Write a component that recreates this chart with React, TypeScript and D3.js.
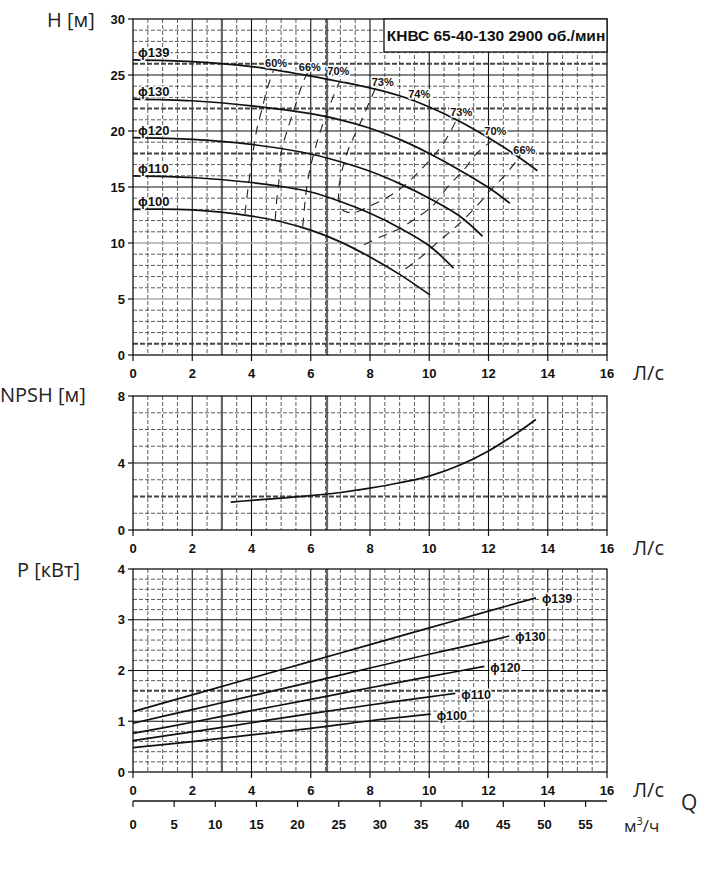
import React from "react";
import * as d3 from "d3";

// ---------- data ----------
const qTicks = [0, 2, 4, 6, 8, 10, 12, 14, 16];
const m3hTicks = [0, 5, 10, 15, 20, 25, 30, 35, 40, 45, 50, 55];
const headTicks = [0, 5, 10, 15, 20, 25, 30];
const npshTicks = [0, 4, 8];
const powerTicks = [0, 1, 2, 3, 4];

const diameters = ["ϕ139", "ϕ130", "ϕ120", "ϕ110", "ϕ100"];

// head curves H(Q)
const h139Q = [0, 2, 4, 6, 7, 8, 9, 10, 11, 12, 13, 13.65];
const h139H = [26.35, 26.2, 25.75, 24.9, 24.4, 23.85, 23.15, 22.15, 20.9, 19.4, 17.7, 16.45];
const h130Q = [0, 2, 4, 6, 7, 8, 9, 10, 11, 12, 12.72];
const h130H = [22.85, 22.7, 22.25, 21.55, 21.0, 20.25, 19.25, 18.0, 16.55, 14.95, 13.55];
const h120Q = [0, 2, 4, 6, 7, 8, 9, 10, 11, 11.8];
const h120H = [19.4, 19.25, 18.8, 17.95, 17.25, 16.4, 15.3, 14.0, 12.45, 10.6];
const h110Q = [0, 2, 4, 5, 6, 7, 8, 9, 10, 10.82];
const h110H = [16.0, 15.85, 15.4, 15.05, 14.55, 13.7, 12.65, 11.35, 9.75, 7.75];
const h100Q = [0, 2, 4, 5, 6, 7, 8, 9, 10.03];
const h100H = [13.0, 12.95, 12.4, 11.9, 11.15, 10.1, 8.75, 7.2, 5.35];

// iso-efficiency curves (Q, H)
const eff60Q = [3.78, 3.85, 3.95, 4.06, 4.2, 4.35, 4.52, 4.74];
const eff60H = [12.6, 14.2, 16.2, 18.3, 20.4, 21.9, 23.7, 25.4];
const eff66aQ = [4.8, 4.85, 4.94, 5.02, 5.25, 5.47, 5.73, 5.89];
const eff66aH = [12.05, 13.8, 15.9, 18.3, 20.4, 22.2, 24.3, 25.2];
const eff70aQ = [5.73, 5.8, 5.92, 6.2, 6.54, 6.97];
const eff70aH = [11.45, 13.5, 15.9, 18.9, 21.6, 24.4];
const eff73Q = [8.18, 7.67, 7.22, 6.98, 6.94, 7.05, 7.4, 8.0, 8.9, 9.7, 10.48, 10.9];
const eff73H = [23.8, 20.7, 18.0, 15.5, 14.1, 13.0, 12.7, 13.3, 14.6, 16.5, 18.9, 20.9];
const eff70bQ = [7.8, 8.4, 9.0, 9.6, 10.15, 10.65, 11.16, 11.6, 12.1];
const eff70bH = [9.85, 10.6, 11.3, 12.3, 13.4, 15.1, 16.5, 18.0, 19.1];
const eff66bQ = [9.2, 9.75, 10.3, 10.75, 11.2, 11.67, 12.1, 12.57, 12.96, 13.13];
const eff66bH = [7.7, 8.8, 10.1, 11.1, 12.2, 13.5, 14.8, 16.1, 17.4, 18.1];

const effLabels = ["60%", "66%", "70%", "73%", "74%", "73%", "70%", "66%"];
const effLabelQ = [4.83, 5.97, 6.93, 8.43, 9.66, 11.08, 12.23, 13.21];
const effLabelH = [26.1, 25.67, 25.36, 24.33, 23.26, 21.65, 19.96, 18.3];

// NPSH
const npshQ = [3.3, 4, 5, 6, 7, 8, 9, 10, 11, 12, 12.85, 13.6];
const npshV = [1.66, 1.77, 1.9, 2.05, 2.24, 2.5, 2.82, 3.22, 3.85, 4.72, 5.66, 6.6];

// power P(Q)
const p139Q = [0, 2, 4, 6, 8, 10, 12, 13.6];
const p139P = [1.19, 1.52, 1.85, 2.18, 2.51, 2.84, 3.17, 3.43];
const p130Q = [0, 2, 4, 6, 8, 10, 12, 12.7];
const p130P = [0.96, 1.23, 1.5, 1.77, 2.05, 2.32, 2.58, 2.68];
const p120Q = [0, 2, 4, 6, 8, 10, 11.86];
const p120P = [0.76, 0.98, 1.21, 1.43, 1.66, 1.88, 2.08];
const p110Q = [0, 2, 4, 6, 8, 10, 10.88];
const p110P = [0.62, 0.79, 0.97, 1.15, 1.32, 1.48, 1.55];
const p100Q = [0, 2, 4, 6, 8, 10.05];
const p100P = [0.48, 0.6, 0.73, 0.86, 1.01, 1.14];

const title = "КНВС 65-40-130 2900 об./мин";

// ---------- layout ----------
const X0 = 133;
const X1 = 607;
const x = d3.scaleLinear().domain([0, 16]).range([X0, X1]);
const xm = d3.scaleLinear().domain([0, 57.6]).range([X0, X1]);
const yH = d3.scaleLinear().domain([0, 30]).range([355, 19]);
const yN = d3.scaleLinear().domain([0, 8]).range([530, 396]);
const yP = d3.scaleLinear().domain([0, 4]).range([772, 569]);

const tickFont = "'Liberation Sans', Arial, sans-serif";
const titleFont = "'Open Sans', 'Noto Sans', sans-serif";

const zip = (a: number[], b: number[]) => a.map((v, i) => [v, b[i]] as [number, number]);

type GridProps = {
  y: d3.ScaleLinear<number, number>;
  max: number;
  step: number;
  solid: number[];
  gray: number[];
  thick: number[];
  ticks: number[];
};

function Grid({ y, max, step, solid, gray, thick, ticks }: GridProps) {
  const yTop = y(max);
  const yBot = y(0);
  const minorX = d3.range(0.5, 16, 0.5);
  const nH = Math.round(max / step);
  const hVals = d3.range(1, nH).map((i) => +(i * step).toFixed(4));
  const near = (arr: number[], v: number) => arr.some((a) => Math.abs(a - v) < 1e-6);
  return (
    <g>
      {minorX.map((q) => {
        const isSolid = Math.abs(q % 2) < 1e-6;
        return (
          <line
            key={"v" + q}
            x1={x(q)}
            x2={x(q)}
            y1={yTop}
            y2={yBot}
            stroke={isSolid ? "#111" : "#333"}
            strokeWidth={isSolid ? 1.1 : 0.8}
            strokeDasharray={isSolid ? undefined : "4 2"}
          />
        );
      })}
      {[3, 6.55].map((q) => (
        <line key={"t" + q} x1={x(q)} x2={x(q)} y1={yTop} y2={yBot} stroke="#666" strokeWidth={2.2} />
      ))}
      {hVals.map((v) => {
        if (near(solid, v))
          return <line key={"h" + v} x1={X0} x2={X1} y1={y(v)} y2={y(v)} stroke="#111" strokeWidth={1.1} />;
        if (near(gray, v))
          return <line key={"h" + v} x1={X0} x2={X1} y1={y(v)} y2={y(v)} stroke="#aaa" strokeWidth={1.6} />;
        if (near(thick, v))
          return (
            <line key={"h" + v} x1={X0} x2={X1} y1={y(v)} y2={y(v)} stroke="#444" strokeWidth={2} strokeDasharray="5 2" />
          );
        return (
          <line key={"h" + v} x1={X0} x2={X1} y1={y(v)} y2={y(v)} stroke="#333" strokeWidth={0.8} strokeDasharray="4 2" />
        );
      })}
      <rect x={X0} y={yTop} width={X1 - X0} height={yBot - yTop} fill="none" stroke="#111" strokeWidth={1.3} />
      {qTicks.map((q) => (
        <g key={"xt" + q}>
          <line x1={x(q)} x2={x(q)} y1={yBot} y2={yBot + 6} stroke="#111" strokeWidth={1.2} />
          <text
            x={x(q)}
            y={yBot + 18}
            dy="0.35em"
            textAnchor="middle"
            fontFamily={tickFont}
            fontWeight="bold"
            fontSize={13}
            fill="#111"
          >
            {q}
          </text>
        </g>
      ))}
      {ticks.map((v) => (
        <g key={"yt" + v}>
          <line x1={X0 - 5} x2={X0} y1={y(v)} y2={y(v)} stroke="#111" strokeWidth={1.2} />
          <text
            x={X0 - 8}
            y={y(v)}
            dy="0.35em"
            textAnchor="end"
            fontFamily={tickFont}
            fontWeight="bold"
            fontSize={13}
            fill="#111"
          >
            {v}
          </text>
        </g>
      ))}
      <text x={633} y={yBot + 18} dy="0.35em" fontFamily={titleFont} fontSize={20} fill="#222">
        Л/с
      </text>
    </g>
  );
}

export default function App() {
  const smooth = d3.curveCatmullRom.alpha(0.5);
  const lineH = d3
    .line<[number, number]>()
    .x((d) => x(d[0]))
    .y((d) => yH(d[1]))
    .curve(smooth);
  const lineN = d3
    .line<[number, number]>()
    .x((d) => x(d[0]))
    .y((d) => yN(d[1]))
    .curve(smooth);
  const lineP = d3
    .line<[number, number]>()
    .x((d) => x(d[0]))
    .y((d) => yP(d[1]))
    .curve(smooth);

  const heads = [zip(h139Q, h139H), zip(h130Q, h130H), zip(h120Q, h120H), zip(h110Q, h110H), zip(h100Q, h100H)];
  const effs = [
    zip(eff60Q, eff60H),
    zip(eff66aQ, eff66aH),
    zip(eff70aQ, eff70aH),
    zip(eff73Q, eff73H),
    zip(eff70bQ, eff70bH),
    zip(eff66bQ, eff66bH),
  ];
  const powers = [zip(p139Q, p139P), zip(p130Q, p130P), zip(p120Q, p120P), zip(p110Q, p110P), zip(p100Q, p100P)];

  const labelStyle = {
    paintOrder: "stroke" as const,
    stroke: "#fff",
    strokeWidth: 3,
    strokeLinejoin: "round" as const,
  };

  return (
    <svg
      width={718}
      height={884}
      viewBox="0 0 718 884"
      style={{ position: "absolute", left: 0, top: 0, background: "#fff" }}
    >
      <rect x={0} y={0} width={718} height={884} fill="#fff" />

      {/* ---- Head chart ---- */}
      <Grid y={yH} max={30} step={1} solid={[15, 20, 25]} gray={[5, 10]} thick={[1, 18, 22, 26]} ticks={headTicks} />
      {effs.map((pts, i) => (
        <path key={"e" + i} d={lineH(pts) || ""} fill="none" stroke="#222" strokeWidth={1.1} strokeDasharray="9 7" />
      ))}
      {heads.map((pts, i) => (
        <path key={"h" + i} d={lineH(pts) || ""} fill="none" stroke="#111" strokeWidth={1.7} />
      ))}
      {heads.map((pts, i) => (
        <text
          key={"hl" + i}
          x={x(0) + 5}
          y={yH(pts[0][1]) - 3}
          fontFamily={tickFont}
          fontWeight="bold"
          fontSize={13}
          fill="#111"
          style={labelStyle}
        >
          {diameters[i]}
        </text>
      ))}
      {effLabels.map((t, i) => (
        <text
          key={"el" + i}
          x={x(effLabelQ[i])}
          y={yH(effLabelH[i])}
          dy="0.35em"
          textAnchor="middle"
          fontFamily={tickFont}
          fontWeight="bold"
          fontSize={11}
          fill="#111"
          style={labelStyle}
        >
          {t}
        </text>
      ))}
      <rect x={384} y={19} width={X1 - 384} height={33} fill="#fff" stroke="#111" strokeWidth={1.3} />
      <text x={496} y={36} dy="0.35em" textAnchor="middle" fontFamily={tickFont} fontWeight="bold" fontSize={15.5} fill="#111">
        {title}
      </text>
      <text x={47} y={20} dy="0.35em" fontFamily={titleFont} fontSize={20} fill="#222">
        H [м]
      </text>

      {/* ---- NPSH chart ---- */}
      <Grid y={yN} max={8} step={1} solid={[4]} gray={[]} thick={[2]} ticks={npshTicks} />
      <path d={lineN(zip(npshQ, npshV)) || ""} fill="none" stroke="#111" strokeWidth={1.7} />
      <text x={0} y={395} dy="0.35em" fontFamily={titleFont} fontSize={20} fill="#222">
        NPSH [м]
      </text>

      {/* ---- Power chart ---- */}
      <Grid y={yP} max={4} step={0.2} solid={[1, 2, 3]} gray={[]} thick={[1.6]} ticks={powerTicks} />
      {powers.map((pts, i) => (
        <path key={"p" + i} d={lineP(pts) || ""} fill="none" stroke="#111" strokeWidth={1.7} />
      ))}
      {powers.map((pts, i) => {
        const last = pts[pts.length - 1];
        return (
          <text
            key={"pl" + i}
            x={x(last[0]) + 6}
            y={yP(last[1]) + 1}
            dy="0.35em"
            fontFamily={tickFont}
            fontWeight="bold"
            fontSize={12.5}
            fill="#111"
            style={labelStyle}
          >
            {diameters[i]}
          </text>
        );
      })}
      <text x={17} y={570} dy="0.35em" fontFamily={titleFont} fontSize={20} fill="#222">
        P [кВт]
      </text>

      {/* ---- m3/h axis ---- */}
      <line x1={X0} x2={X1} y1={801} y2={801} stroke="#111" strokeWidth={1.3} />
      {m3hTicks.map((v) => (
        <g key={"m" + v}>
          <line x1={xm(v)} x2={xm(v)} y1={801} y2={807} stroke="#111" strokeWidth={1.2} />
          <text
            x={xm(v)}
            y={824}
            dy="0.35em"
            textAnchor="middle"
            fontFamily={tickFont}
            fontWeight="bold"
            fontSize={13}
            fill="#111"
          >
            {v}
          </text>
        </g>
      ))}
      <text x={681} y={803} dy="0.35em" fontFamily={titleFont} fontSize={21} fill="#222">
        Q
      </text>
      <text x={624} y={826} dy="0.35em" fontFamily={titleFont} fontSize={17} fill="#222">
        м<tspan dy="-7" fontSize={11}>3</tspan>
        <tspan dy="7">/ч</tspan>
      </text>
    </svg>
  );
}
